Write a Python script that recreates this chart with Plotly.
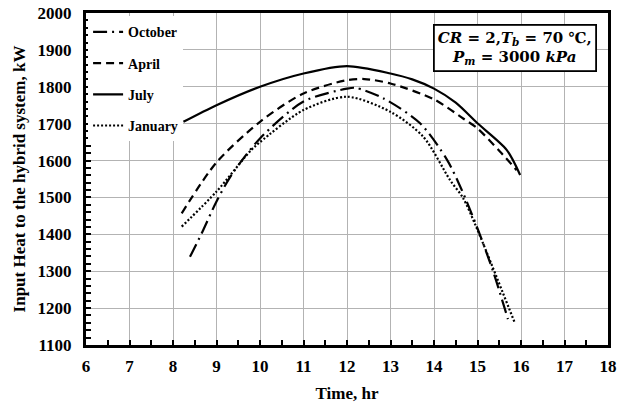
import plotly.graph_objects as go

# Input heat (kW) over the day for four representative months
oct_t = [8.39, 8.66, 9.0, 9.35, 10.0, 11.0, 12.0, 12.2, 12.83, 13.68, 14.3, 14.62, 15.0, 15.36, 15.7]
oct_q = [1339, 1403, 1489, 1562, 1660, 1760, 1795, 1797, 1769, 1701, 1602, 1525, 1416, 1299, 1170]

apr_t = [8.2, 9.0, 10.0, 11.0, 12.0, 12.4, 13.0, 14.0, 14.67, 15.0, 15.52, 15.9]
apr_q = [1457, 1595, 1705, 1782, 1818, 1821, 1809, 1766, 1714, 1687, 1624, 1574]

jul_t = [8.24, 9.0, 10.0, 11.0, 12.0, 13.0, 13.5, 14.0, 14.5, 15.0, 15.67, 15.98]
jul_q = [1705, 1750, 1800, 1836, 1856, 1836, 1820, 1795, 1757, 1701, 1629, 1561]

jan_t = [8.2, 9.0, 9.8, 10.0, 11.0, 12.0, 13.0, 13.75, 14.37, 14.67, 15.0, 15.86]
jan_q = [1421, 1516, 1629, 1650, 1737, 1773, 1732, 1665, 1547, 1498, 1412, 1159]

x_ticks = list(range(6, 19))
y_ticks = list(range(1100, 2001, 100))

serif = "Liberation Serif, Times New Roman, serif"

series = [
    ("October", oct_t, oct_q, "14px,5px,2px,5px"),
    ("April", apr_t, apr_q, "8px,5px"),
    ("July", jul_t, jul_q, "solid"),
    ("January", jan_t, jan_q, "2px,2px"),
]

fig = go.Figure()
for name, t, q, dash in series:
    fig.add_trace(go.Scatter(
        x=t, y=q, name=name, mode="lines", legendgroup=name,
        line=dict(color="black", width=2.2, dash=dash, shape="spline", smoothing=0.8),
    ))

axis_common = dict(
    showline=True, linecolor="black", linewidth=3, mirror=True,
    showgrid=True, gridcolor="#b3b3b3", gridwidth=1.3,
    ticks="inside", ticklen=5, tickwidth=2, tickcolor="black",
    zeroline=False, automargin=False,
    tickfont=dict(family=serif, size=17, color="black", weight="bold"),
)

fig.update_xaxes(
    range=[6, 18], tickvals=x_ticks, ticklabelstandoff=4,
    minor=dict(dtick=0.5, ticks="inside", ticklen=5, tickwidth=2, tickcolor="black", showgrid=False),
    title=dict(text="<b>Time, hr</b>", font=dict(family=serif, size=17, color="black"), standoff=12),
    **axis_common,
)
fig.update_yaxes(
    range=[1100, 2000], tickvals=y_ticks, ticklabelstandoff=8,
    minor=dict(dtick=20, ticks="inside", ticklen=5, tickwidth=2, tickcolor="black", showgrid=False),
    title=dict(text="<b>Input Heat to the hybrid system, kW</b>", font=dict(family=serif, size=17, color="black"), standoff=8),
    **axis_common,
)

fig.add_annotation(
    xref="paper", yref="paper", x=0.979, y=0.968, xanchor="right", yanchor="top",
    text="<b><i>CR</i> = 2,<i>T</i><sub><i>b</i></sub> = 70 ℃,</b><br><b><i>P</i><sub><i>m</i></sub> = 3000 <i>kPa</i></b>",
    showarrow=False, align="center",
    font=dict(family="DejaVu Serif, serif", size=15, color="black"),
    bordercolor="black", borderwidth=1.8, borderpad=3, bgcolor="white",
)

fig.update_layout(
    width=628, height=406,
    margin=dict(l=86, r=20, t=13, b=61, autoexpand=False),
    paper_bgcolor="white", plot_bgcolor="white",
    showlegend=True,
    legend=dict(
        x=0.004, y=0.99, xanchor="left", yanchor="top",
        bgcolor="white", borderwidth=0,
        traceorder="grouped", tracegroupgap=10,
        font=dict(family=serif, size=14, color="black", weight="bold"),
    ),
)

fig.write_html("out.html")
